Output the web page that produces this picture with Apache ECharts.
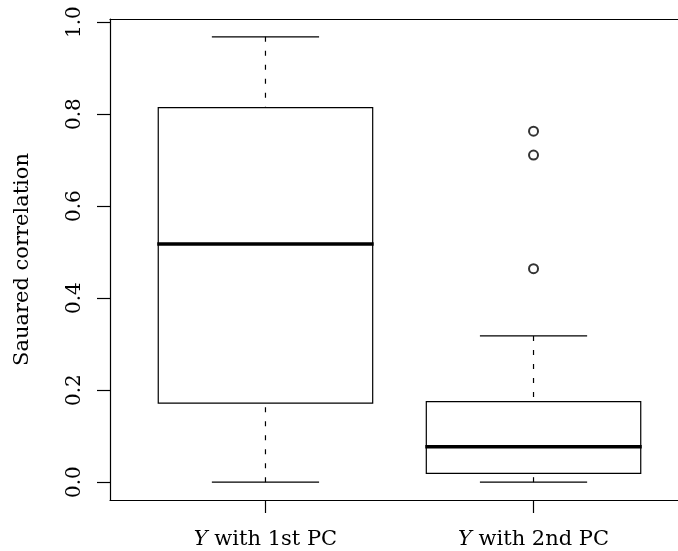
<!DOCTYPE html>
<html>
<head>
<meta charset="utf-8">
<title>Squared correlation boxplot</title>
<script src="https://cdn.jsdelivr.net/npm/echarts@6/dist/echarts.min.js"></script>
<style>
    html, body { margin: 0; padding: 0; background: #fff; }
    #chart { width: 678px; height: 551px; }
</style>
</head>
<body>
<div id="chart"></div>
<script>
// 数据
var categories = ['Y with 1st PC', 'Y with 2nd PC'];
var lowerWhisker = [0.000, 0.000];
var lowerQuartile = [0.172, 0.019];
var medians = [0.5175, 0.077];
var upperQuartile = [0.814, 0.175];
var upperWhisker = [0.968, 0.318];
var outliers = [[2, 0.763], [2, 0.711], [2, 0.464]];
var yTicks = [0, 0.2, 0.4, 0.6, 0.8, 1.0];

var FONT = 'DejaVu Serif';
var BOX_HALF = 0.4, CAP_HALF = 0.2;

var boxData = categories.map(function (c, i) {
    return [i + 1, lowerWhisker[i], lowerQuartile[i], medians[i], upperQuartile[i], upperWhisker[i]];
});

var chart = echarts.init(document.getElementById('chart'), null, { renderer: 'canvas' });

function renderBox(params, api) {
    var x = api.value(0);
    var lo = api.coord([x, api.value(1)]),
        q1 = api.coord([x, api.value(2)]),
        med = api.coord([x, api.value(3)]),
        q3 = api.coord([x, api.value(4)]),
        hi = api.coord([x, api.value(5)]);
    var bl = api.coord([x - BOX_HALF, api.value(4)]),
        br = api.coord([x + BOX_HALF, api.value(2)]);
    var cl = api.coord([x - CAP_HALF, 0])[0],
        cr = api.coord([x + CAP_HALF, 0])[0];
    var solid = { stroke: '#000', lineWidth: 1.2, fill: null };
    var dashed = { stroke: '#000', lineWidth: 1.2, lineDash: [5, 9] };
    return {
        type: 'group',
        children: [
            { type: 'line', shape: { x1: hi[0], y1: hi[1], x2: q3[0], y2: q3[1] }, style: dashed },
            { type: 'line', shape: { x1: lo[0], y1: lo[1], x2: q1[0], y2: q1[1] }, style: dashed },
            { type: 'line', shape: { x1: cl, y1: hi[1], x2: cr, y2: hi[1] }, style: solid },
            { type: 'line', shape: { x1: cl, y1: lo[1], x2: cr, y2: lo[1] }, style: solid },
            { type: 'rect', shape: { x: bl[0], y: bl[1], width: br[0] - bl[0], height: br[1] - bl[1] },
              style: { stroke: '#000', lineWidth: 1.2, fill: '#fff' } },
            { type: 'line', shape: { x1: bl[0] - 1, y1: med[1], x2: br[0] + 1, y2: med[1] },
              style: { stroke: '#000', lineWidth: 3.5 } }
        ]
    };
}

var axisLineStyle = { color: '#000', width: 1.2 };

var option = {
    backgroundColor: '#fff',
    animation: false,
    grid: { left: 110, top: 19, bottom: 51, right: 0 },
    xAxis: [
        {
            type: 'value',
            min: 0.42,
            max: 2.539,   // 右边框在画布外
            splitLine: { show: false },
            axisLine: { show: true, onZero: false, lineStyle: axisLineStyle },
            axisTick: { show: true, inside: false, length: 13, lineStyle: axisLineStyle, customValues: [1, 2] },
            axisLabel: {
                customValues: [1, 2],
                margin: 29,
                color: '#000',
                fontFamily: FONT,
                fontSize: 21,
                formatter: function (v) {
                    var s = categories[Math.round(v) - 1] || '';
                    return '{it|Y}' + s.slice(1);
                },
                rich: { it: { fontStyle: 'italic', fontFamily: FONT, fontSize: 21, color: '#000' } }
            }
        },
        {
            // 顶部边框
            type: 'value',
            position: 'top',
            min: 0.42,
            max: 2.539,
            splitLine: { show: false },
            axisLine: { show: true, onZero: false, lineStyle: axisLineStyle },
            axisTick: { show: false },
            axisLabel: { show: false }
        }
    ],
    yAxis: {
        type: 'value',
        min: -0.0387,
        max: 1.0067,
        name: 'Sauared correlation',
        nameLocation: 'middle',
        nameGap: 77,
        nameTextStyle: { color: '#000', fontFamily: FONT, fontSize: 21 },
        splitLine: { show: false },
        axisLine: { show: true, onZero: false, lineStyle: axisLineStyle },
        axisTick: { show: true, inside: false, length: 13, lineStyle: axisLineStyle, customValues: yTicks },
        axisLabel: {
            customValues: yTicks,
            rotate: 90,
            margin: 25,
            color: '#000',
            fontFamily: FONT,
            fontSize: 20,
            formatter: function (v) { return v.toFixed(1); }
        }
    },
    series: [
        {
            type: 'custom',
            renderItem: renderBox,
            data: boxData,
            encode: { x: 0, y: [1, 2, 3, 4, 5] },
            z: 2
        },
        {
            type: 'scatter',
            data: outliers,
            symbol: 'emptyCircle',
            symbolSize: 9,
            itemStyle: { color: '#000', borderColor: '#000', borderWidth: 1.3 },
            z: 3
        }
    ]
};

chart.setOption(option);
</script>
</body>
</html>
